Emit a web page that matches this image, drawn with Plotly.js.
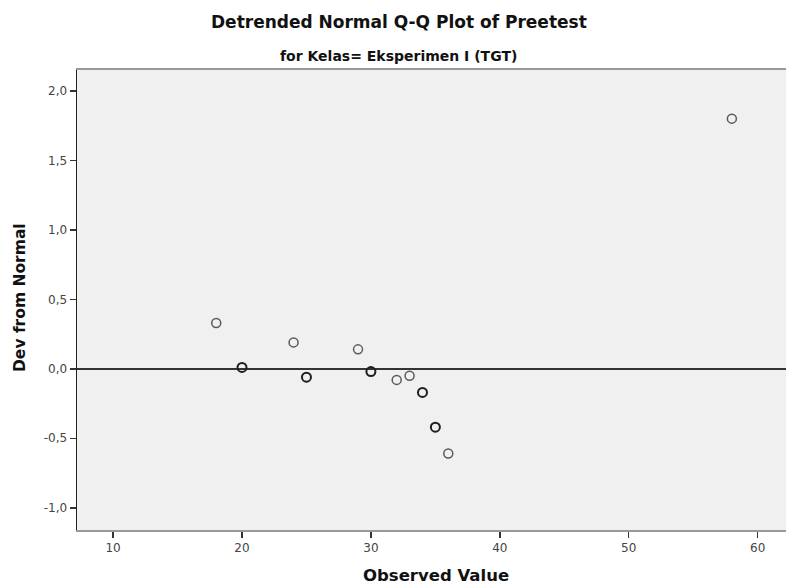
<!DOCTYPE html>
<html><head><meta charset="utf-8">
<script src="https://cdn.plot.ly/plotly-3.0.1.min.js"></script>
<style>html,body{margin:0;padding:0;background:#fff}#chart{width:786px;height:587px}</style>
</head><body><div id="chart"></div>
<script>
// Observed values and their deviation from normal
const observed = [18, 20, 24, 25, 29, 30, 32, 33, 34, 35, 36, 58];
const devFromNormal = [0.33, 0.01, 0.19, -0.06, 0.14, -0.02, -0.08, -0.05, -0.17, -0.42, -0.61, 1.80];
const tieCount = [1, 2, 1, 2, 1, 2, 1, 1, 2, 2, 1, 1];
const xTickVals = [10, 20, 30, 40, 50, 60];
const xTickText = ["10", "20", "30", "40", "50", "60"];
const yTickVals = [2.0, 1.5, 1.0, 0.5, 0.0, -0.5, -1.0];
const yTickText = ["2,0", "1,5", "1,0", "0,5", "0,0", "-0,5", "-1,0"];

const trace = {
  x: observed, y: devFromNormal, type: 'scatter', mode: 'markers',
  marker: {symbol: 'circle-open', size: 9,
    color: tieCount.map(c => c > 1 ? '#1e1e1e' : '#5a5a5a'),
    line: {width: tieCount.map(c => c > 1 ? 2 : 1.5)}},
  hoverinfo: 'x+y', showlegend: false
};

const font = 'DejaVu Sans, sans-serif';
const L = 77, W = 709;
const layout = {
  width: 786, height: 587,
  margin: {l: L, r: 0, t: 70, b: 57},
  paper_bgcolor: '#ffffff', plot_bgcolor: '#f0f0f0',
  font: {family: font, color: '#333'},
  annotations: [
    {text: '<b>Detrended Normal Q-Q Plot of Preetest</b>', xref: 'paper', yref: 'paper',
     x: (399-L)/W, y: 1, yshift: 48.5, xanchor: 'center', yanchor: 'middle', showarrow: false,
     font: {size: 17, color: '#111', family: font}},
    {text: '<b>for Kelas= Eksperimen I (TGT)</b>', xref: 'paper', yref: 'paper',
     x: (398.5-L)/W, y: 1, yshift: 14, xanchor: 'center', yanchor: 'middle', showarrow: false,
     font: {size: 14, color: '#111', family: font}},
    {text: '<b>Observed Value</b>', xref: 'paper', yref: 'paper',
     x: (436-L)/W, y: 0, yshift: -45, xanchor: 'center', yanchor: 'middle', showarrow: false,
     font: {size: 16.5, color: '#111', family: font}},
    {text: '<b>Dev from Normal</b>', xref: 'paper', yref: 'paper', textangle: -90,
     x: 0, xshift: -57, y: 0.5, yshift: 2, xanchor: 'center', yanchor: 'middle', showarrow: false,
     font: {size: 15.5, color: '#111', family: font}}
  ],
  xaxis: {range: [7.2, 62.2], tickvals: xTickVals, ticktext: xTickText,
    showgrid: false, zeroline: false, ticks: 'outside', ticklen: 6, tickwidth: 1.5, tickcolor: '#333',
    showline: true, linecolor: '#9a9a9a', linewidth: 2, mirror: true,
    tickfont: {size: 12, color: '#444', family: font}},
  yaxis: {range: [-1.16, 2.15], tickvals: yTickVals, ticktext: yTickText,
    showgrid: false, zeroline: true, zerolinecolor: '#333', zerolinewidth: 1.5,
    ticks: 'outside', ticklen: 6, tickwidth: 1.5, tickcolor: '#333',
    showline: true, linecolor: '#222', linewidth: 1.5,
    tickfont: {size: 12, color: '#444', family: font}}
};
Plotly.newPlot('chart', [trace], layout, {displayModeBar: false, staticPlot: true});
</script></body></html>
